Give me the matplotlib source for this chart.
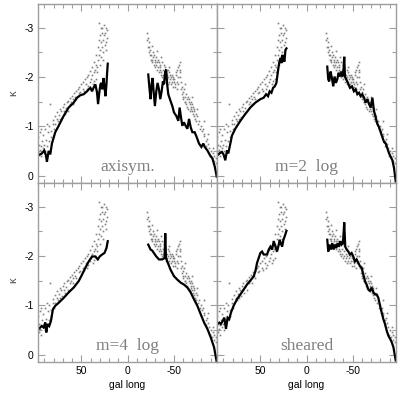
import matplotlib
matplotlib.use("Agg")
import matplotlib.pyplot as plt
from matplotlib.ticker import MultipleLocator

# observed points (gal long, kappa), same in every panel
obs_l_east = [96.3, 95.8, 96.6, 94.9, 95.2, 93.7, 93.4, 92.6, 92.1, 91.3, 90.4, 89.7, 88.9, 88.2,
              87.4, 86.1, 85.6, 84.7, 84.2, 83.3, 82.4, 81.2, 80.6, 79.7, 79.1, 78.4, 76.8, 76.3,
              75.2, 74.5, 72.9, 72.3, 71.4, 70.2, 68.7, 68.3, 66.6, 66.1, 64.8, 64.3, 62.6, 62.2,
              60.7, 60.1, 58.6, 58.3, 56.9, 56.2, 55.5, 54.1, 52.8, 52.4, 51.3, 50.2, 48.7, 48.4,
              47.1, 46.3, 44.6, 44.2, 42.7, 42.4, 40.9, 40.3, 39.6, 38.8, 38.1, 36.7, 36.4, 35.8,
              35.2, 34.3, 33.6, 33.1, 32.4, 31.7, 31.3, 30.8, 30.4, 29.9, 29.6, 29.2, 28.8, 28.5,
              28.1, 27.6, 27.3, 26.7, 26.4, 25.8, 25.3, 24.9, 24.4, 23.8, 23.2, 22.6, 22.1,
              32.8, 34.6, 37.4, 43.5, 58.9, 67.5, 73.5, 86.8, 94.2, 30.2, 26.1, 23.5]
obs_k_east = [-0.45, -0.62, -0.78, -0.52, -0.88, -0.6, -0.4, -0.7, -0.55, -0.82, -0.62, -0.95,
              -0.5, -0.72, -0.6, -0.88, -0.7, -1.0, -1.45, -0.9, -0.78, -1.05, -1.12, -0.95,
              -1.2, -1.05, -1.15, -1.28, -1.1, -1.22, -1.35, -1.3, -1.18, -1.4, -1.3, -1.45,
              -1.38, -1.5, -1.32, -1.52, -1.45, -1.58, -1.5, -1.62, -1.55, -1.68, -1.6, -1.72,
              -1.55, -1.75, -1.68, -1.8, -1.7, -1.85, -1.75, -1.9, -1.72, -1.95, -1.85, -2.0,
              -1.82, -2.05, -1.9, -2.12, -1.95, -2.2, -2.05, -1.92, -2.3, -2.1, -2.15, -2.45,
              -2.25, -2.1, -2.6, -2.35, -2.75, -2.45, -3.1, -2.85, -2.55, -3.0, -2.7, -2.4,
              -2.9, -2.6, -3.0, -2.75, -2.5, -2.85, -3.05, -2.65, -2.9, -2.7, -3.0, -2.8, -2.95,
              -2.2, -1.95, -1.85, -1.75, -1.45, -1.25, -1.15, -1.05, -0.95, -2.25, -2.35, -2.55]

obs_l_west = [-20.6, -21.4, -21.8, -22.5, -23.3, -22.9, -24.4, -23.7, -25.2, -24.8, -26.5, -25.9,
              -27.1, -26.6, -28.4, -27.8, -29.3, -28.7, -30.1, -29.6, -31.4, -30.8, -32.3, -31.7,
              -33.5, -32.9, -34.2, -33.6, -35.4, -34.9, -36.1, -35.7, -37.3, -36.6, -38.5, -37.8,
              -39.2, -38.7, -40.4, -39.8, -41.1, -40.6, -42.3, -41.9, -43.6, -42.8, -44.2, -43.7,
              -45.4, -44.9, -46.1, -45.6, -47.5, -46.8, -48.3, -47.7, -49.4, -48.9, -50.2, -49.6,
              -51.5, -50.8, -52.1, -51.7, -53.4, -52.9, -54.3, -53.6, -55.2, -54.7, -56.4, -55.8,
              -57.1, -56.7, -58.5, -57.9, -59.3, -58.8, -60.4, -59.7, -61.2, -60.6, -62.5, -61.9,
              -63.3, -62.7, -64.4, -63.8, -65.1, -64.6, -66.4, -65.7, -67.2, -66.8, -68.5, -67.9,
              -69.3, -68.6, -70.4, -69.8, -71.2, -70.7, -72.5, -71.8, -73.3, -72.6, -74.4, -73.8,
              -76.6, -75.5, -78.3, -77.4, -80.7, -79.5, -82.4, -81.6, -84.6, -83.3, -86.2, -85.5,
              -88.7, -87.4, -90.3, -89.6, -92.6, -91.4, -94.2, -93.5, -96.4, -95.6,
              -26.3, -31.5, -36.5, -45.5, -53.8, -57.4, -62.8, -69.5, -75.0, -82.7, -87.5, -93.0]
obs_k_west = [-2.9, -2.75, -2.6, -2.8, -2.5, -2.7, -2.45, -2.6, -2.35, -2.55, -2.3, -2.45,
              -2.5, -2.35, -2.25, -2.4, -2.3, -2.45, -2.2, -2.35, -2.4, -2.25, -2.3, -2.15,
              -2.2, -2.35, -2.3, -2.1, -2.25, -2.15, -2.05, -2.2, -2.3, -2.1, -2.15, -2.0,
              -2.25, -2.05, -2.1, -1.95, -2.2, -2.0, -2.05, -1.9, -2.15, -1.95, -2.0, -1.85,
              -2.1, -1.9, -1.95, -2.05, -1.85, -2.0, -1.9, -2.05, -1.8, -1.95, -1.9, -2.0,
              -1.85, -1.95, -2.05, -1.8, -1.9, -2.1, -2.0, -2.15, -2.2, -1.85, -2.1, -2.25,
              -2.0, -2.15, -1.9, -1.75, -1.8, -1.65, -1.7, -1.6, -1.75, -1.55, -1.6, -1.5,
              -1.65, -1.5, -1.55, -1.45, -1.6, -1.4, -1.5, -1.35, -1.45, -1.55, -1.4, -1.3,
              -1.5, -1.35, -1.3, -1.45, -1.25, -1.4, -1.35, -1.2, -1.15, -1.3, -1.25, -1.1,
              -1.05, -1.2, -0.95, -1.1, -0.9, -1.0, -0.8, -0.95, -0.7, -0.85, -0.75, -0.6,
              -0.55, -0.65, -0.5, -0.4, -0.45, -0.35, -0.3, -0.4, -0.25, -0.35,
              -2.62, -2.52, -2.4, -2.2, -1.75, -2.3, -1.85, -1.6, -1.35, -1.1, -0.85, -0.55]

# model curves: (l, kappa) for east (l>0) and west (l<0) segments
axi_l_e = [96.4, 92.8, 90.2, 88.4, 87.3, 85.5, 83.7, 81.9, 78.3, 74.6, 69.2, 63.8, 58.3, 54.7,
           51.1, 47.5, 43.8, 42, 40.2, 38.4, 36.6, 34.8, 33, 31.9, 30.4, 29.3, 28.3, 27.2, 26.1,
           25, 23.9, 22.8, 22.1, 21.4]
axi_k_e = [-0.41, -0.45, -0.51, -0.41, -0.28, -0.5, -0.43, -0.65, -0.88, -1.01, -1.21, -1.38,
           -1.48, -1.58, -1.63, -1.65, -1.71, -1.75, -1.78, -1.71, -1.79, -1.85, -1.68, -1.45,
           -1.71, -1.85, -1.88, -1.75, -1.98, -1.81, -1.61, -1.85, -2.08, -2.27]
axi_l_w = [-22.5, -23.6, -25, -26.1, -27.2, -28.3, -29.7, -31.2, -32.6, -34.1, -35.5, -37,
           -38.4, -39.5, -40.9, -42, -42.8, -44.2, -46.7, -48.6, -50.4, -52.9, -55.1, -56.5,
           -58, -59.4, -61.2, -63, -64.9, -66.7, -68.5, -70.3, -72.8, -75, -77.5, -80.1, -82.2,
           -83.7, -86.6, -89.5, -92, -94.6, -96.7]
axi_k_w = [-2.05, -1.81, -1.55, -1.85, -1.98, -1.71, -1.41, -1.71, -1.88, -1.75, -1.55, -1.71,
           -1.91, -1.85, -2.11, -2.15, -1.88, -1.65, -1.51, -1.41, -1.28, -1.21, -1.11, -1.38,
           -1.18, -1.01, -1.08, -1.01, -0.95, -1.15, -0.98, -0.88, -0.88, -0.78, -0.65, -0.58,
           -0.65, -0.58, -0.51, -0.41, -0.35, -0.18, 0.02]

m2_l_e = [96.7, 94.2, 91.7, 89.9, 88, 86.2, 84.8, 83.3, 80.8, 77.2, 71.7, 66.3, 60.9, 55.4, 50,
          46.4, 43.8, 41.7, 39.9, 38, 36.2, 34.4, 32.6, 31.2, 29.7, 28.3, 27.2, 26.1, 25, 23.9,
          22.8, 21.7]
m2_k_e = [-0.41, -0.45, -0.48, -0.43, -0.31, -0.51, -0.45, -0.58, -0.81, -0.95, -1.11, -1.25,
          -1.38, -1.48, -1.55, -1.58, -1.65, -1.61, -1.71, -1.68, -1.78, -1.81, -1.88, -2.08,
          -2.28, -2.38, -2.28, -2.45, -2.35, -2.31, -2.55, -2.58]
m2_l_w = [-22.5, -23.6, -24.6, -26.1, -27.5, -29, -30.4, -31.9, -33.3, -34.8, -36.2, -37.7,
          -38.8, -39.9, -40.9, -41.7, -43.1, -44.9, -47.1, -49.3, -51.4, -53.3, -55.1, -56.9,
          -58.7, -60.5, -62.3, -64.1, -65.9, -67.8, -69.6, -71.4, -73.2, -75, -76.8, -78.6,
          -80.4, -82.2, -84.1, -85.9, -87.7, -89.5, -91.3, -93.1, -94.9, -96.7]
m2_k_w = [-2.21, -1.95, -1.91, -2.11, -1.98, -1.81, -2.01, -1.88, -1.95, -2.08, -2.01, -2.11,
          -2.01, -2.08, -2.41, -2.01, -1.95, -1.88, -1.78, -1.81, -1.71, -1.75, -1.65, -1.68,
          -1.61, -1.65, -1.58, -1.48, -1.55, -1.45, -1.38, -1.58, -1.31, -1.18, -1.05, -0.98,
          -0.88, -0.78, -0.68, -0.65, -0.55, -0.45, -0.38, -0.31, -0.15, 0.12]

m4_l_e = [96.4, 92.8, 90.9, 89.1, 88, 86.6, 84.8, 83, 80.8, 78.3, 74.6, 69.2, 63.8, 58.3, 52.9,
          49.3, 45.7, 42, 38.4, 34.8, 32.2, 30.1, 27.5, 25, 22.8, 21.4]
m4_k_e = [-0.52, -0.58, -0.55, -0.65, -0.45, -0.62, -0.58, -0.68, -0.92, -0.99, -1.05, -1.15,
          -1.26, -1.36, -1.49, -1.62, -1.76, -1.89, -1.99, -1.99, -1.93, -1.99, -2.03, -2.06,
          -2.16, -2.3]
m4_l_w = [-22.5, -25, -26.8, -28.6, -31.2, -34.1, -37.7, -40.2, -40.9, -41.7, -43.1, -46.7,
          -50.4, -54, -57.6, -61.2, -64.9, -68.5, -72.1, -75.7, -79.3, -83, -86.6, -90.2,
          -93.8, -96.7]
m4_k_w = [-2.23, -2.13, -2.11, -2.06, -1.99, -1.93, -1.93, -1.96, -2.46, -1.96, -1.89, -1.72,
          -1.59, -1.52, -1.46, -1.42, -1.36, -1.26, -1.12, -0.99, -0.82, -0.65, -0.52, -0.35,
          -0.15, 0.15]

sh_l_e = [96.7, 94.6, 92.8, 90.9, 89.1, 87.3, 85.5, 83.7, 81.9, 79, 75.4, 71.7, 68.1, 64.5,
          60.9, 57.2, 55.4, 53.6, 51.8, 50, 48.2, 46.4, 44.6, 42.8, 40.9, 39.1, 37.3, 35.5,
          33.7, 31.9, 30.1, 29, 27.9, 26.4, 25, 23.6, 21.7]
sh_k_e = [-0.62, -0.65, -0.62, -0.68, -0.75, -0.52, -0.75, -0.72, -0.85, -0.99, -1.12, -1.22,
          -1.32, -1.42, -1.5, -1.59, -1.69, -1.86, -1.96, -2.06, -2.09, -2.03, -2.03, -2.03,
          -2.13, -2.19, -2.13, -2.3, -2.19, -2.09, -2.23, -2.33, -2.26, -2.19, -2.33, -2.4,
          -2.51]
sh_l_w = [-22.5, -23.6, -25, -26.4, -27.9, -29.3, -30.8, -32.2, -33.7, -35.1, -36.6, -38,
          -39.5, -40.9, -42, -43.5, -45.3, -47.1, -48.9, -50.7, -52.5, -54.3, -56.2, -58,
          -59.8, -61.6, -63.4, -65.2, -67, -68.8, -70.7, -72.5, -74.3, -76.1, -77.9, -79.7,
          -81.5, -83.3, -85.1, -87, -88.8, -90.6, -92.4, -94.2, -96.7]
sh_k_w = [-2.33, -2.09, -2.23, -2.13, -2.26, -2.13, -2.23, -2.16, -2.26, -2.19, -2.3, -2.23,
          -2.26, -2.68, -2.19, -2.13, -2.09, -2.03, -2.06, -1.99, -1.89, -1.93, -1.86, -1.79,
          -1.76, -1.62, -1.49, -1.42, -1.32, -1.29, -1.36, -1.26, -1.22, -1.22, -1.15, -0.99,
          -0.85, -0.72, -0.62, -0.48, -0.38, -0.32, -0.25, -0.15, 0.12]

panels = [
    ("axisym.", axi_l_e, axi_k_e, axi_l_w, axi_k_w),
    ("m=2  log", m2_l_e, m2_k_e, m2_l_w, m2_k_w),
    ("m=4  log", m4_l_e, m4_k_e, m4_l_w, m4_k_w),
    ("sheared", sh_l_e, sh_k_e, sh_l_w, sh_k_w),
]

plt.rcParams['font.family'] = ['Liberation Sans', 'DejaVu Sans']
fig = plt.figure(figsize=(4.0, 3.97), dpi=100)

W, H = 179 / 400, 179 / 397
pos = [(38 / 400, 1 - 183 / 397), (217 / 400, 1 - 183 / 397),
       (38 / 400, 1 - 362 / 397), (217 / 400, 1 - 362 / 397)]
frame = '0.62'

for i, (name, le, ke, lw, kw) in enumerate(panels):
    ax = fig.add_axes([pos[i][0], pos[i][1], W, H])
    ax.plot(obs_l_east, obs_k_east, 's', ms=1.2, color='0.5', mew=0)
    ax.plot(obs_l_west, obs_k_west, 's', ms=1.2, color='0.5', mew=0)
    ax.plot(le, ke, color='black', lw=1.6, solid_joinstyle='miter')
    ax.plot(lw, kw, color='black', lw=1.6, solid_joinstyle='miter')
    ax.set_xlim(97, -97)
    ax.set_ylim(0.15, -3.48)
    ax.xaxis.set_major_locator(MultipleLocator(50))
    ax.xaxis.set_minor_locator(MultipleLocator(10))
    ax.yaxis.set_major_locator(MultipleLocator(1))
    ax.yaxis.set_minor_locator(MultipleLocator(0.5))
    ax.tick_params(which='both', direction='in', top=True, right=True,
                   color=frame, labelsize=7.5, pad=3)
    ax.tick_params(which='major', length=5, width=0.8)
    ax.tick_params(which='minor', length=3, width=0.8)
    for s in ax.spines.values():
        s.set_color(frame)
        s.set_linewidth(1.0)
    if i % 2 == 1:
        ax.tick_params(labelleft=False)
    else:
        ax.set_yticks([0, -1, -2, -3])
        ax.set_yticklabels(['0', '-1', '-2', '-3'])
    if i < 2:
        ax.tick_params(labelbottom=False)
    else:
        ax.set_xticks([50, 0, -50])
        ax.set_xticklabels(['50', '0', '-50'])
        ax.set_xlabel('gal long', fontsize=7.5, labelpad=3)
    ax.text(0.5, 0.09, name, transform=ax.transAxes, ha='center', va='center',
            fontsize=12.5, color='0.5', family=['Liberation Serif', 'DejaVu Serif'])

fig.text(13 / 400, 1 - 93 / 397, 'κ', rotation=90, ha='center', va='center',
         fontsize=8, color='0.3')
fig.text(13 / 400, 1 - 280 / 397, 'κ', rotation=90, ha='center', va='center',
         fontsize=8, color='0.3')

fig.savefig('out.png', dpi=100)
